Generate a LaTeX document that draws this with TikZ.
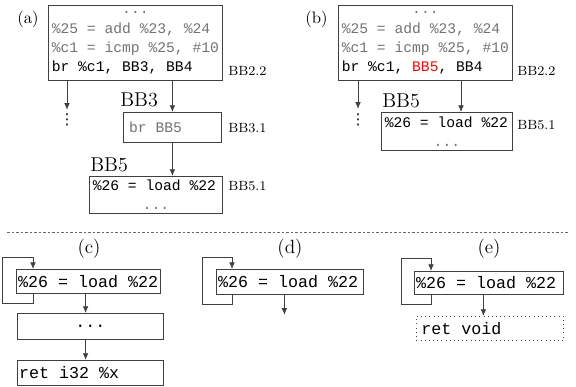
\documentclass[tikz,border=0pt]{standalone}
\usepackage{fontspec}
\setmonofont{Liberation Mono}
\newfontfamily\symfont{DejaVu Sans}
\usepackage{xcolor}
\usetikzlibrary{arrows.meta}

\colorlet{dim}{black!55}
\newcommand{\ctrdots}{\makebox[\linewidth]{...}}

\tikzset{
  blk/.style={draw=black!75,line width=0.5pt,anchor=north west,inner xsep=2pt,inner ysep=1pt,
    align=flush left,font=\fontsize{8.8pt}{11.6pt}\selectfont\ttfamily},
  bblk/.style={blk,inner xsep=1pt,font=\fontsize{10pt}{13pt}\selectfont\ttfamily},
  lbl/.style={anchor=west,inner sep=0pt,font=\footnotesize},
  hdr/.style={anchor=base west,inner sep=0pt,font=\large},
  tag/.style={anchor=base west,inner sep=0pt},
  btag/.style={inner sep=0pt,font=\fontsize{11.5pt}{13pt}\selectfont},
  vdot/.style={inner sep=0pt,font=\symfont\fontsize{9pt}{9pt}\selectfont},
  arr/.style={draw=black!75,line width=0.5pt,-{Latex[length=4pt,width=3.4pt]}},
}

\begin{document}
\begin{tikzpicture}[x=0.6pt,y=-0.6pt]
\useasboundingbox (0,0) rectangle (576,387);
% (a)
\node[tag] (atag) at (17,24) {(a)};
\node[blk,text width=100.4pt,minimum height=45pt] (a22) at (48,5)
  {\color{dim}\ctrdots\\\%25 = add \%23, \%24\\\%c1 = icmp \%25, \#10\\\color{black}br \%c1, BB3, BB4};
\node[lbl] (a22l) at (228,71) {BB2.2};
\node[vdot] (adots) at (67,120) {⋮};
\node[hdr] (a3h) at (120,107) {BB3};
\node[blk,text width=54.8pt,minimum height=18pt] (a31) at (123,112) {\color{dim}\,br BB5};
\node[lbl] (a31l) at (228,128) {BB3.1};
\node[hdr] (a5h) at (90,172) {BB5};
\node[blk,text width=75.8pt,minimum height=22.2pt] (a51) at (89,176)
  {\%26 = load \%22\\\color{dim}\ctrdots};
\node[lbl] (a51l) at (228,186) {BB5.1};
\draw[arr] (a22.south -| adots) -- ++(0,29);
\draw[arr] (a22.south -| a31) -- (a31.north);
\draw[arr] (a31.south) -- (a31.south |- a51.north);
% (b)
\node[tag] (btag) at (305,24) {(b)};
\node[blk,text width=100.4pt,minimum height=45pt] (b22) at (338,5)
  {\color{dim}\ctrdots\\\%25 = add \%23, \%24\\\%c1 = icmp \%25, \#10\\\color{black}br \%c1, \textcolor{red}{BB5}, BB4};
\node[lbl] (b22l) at (517,71) {BB2.2};
\node[vdot] (bdots) at (358,120) {⋮};
\node[hdr] (b5h) at (382,108) {BB5};
\node[blk,text width=74.6pt,minimum height=22.8pt] (b51) at (381,112)
  {\%26 = load \%22\\\color{dim}\ctrdots};
\node[lbl] (b51l) at (517,125) {BB5.1};
\coordinate (bto) at (461,0);
\draw[arr] (b22.south -| bdots) -- ++(0,28);
\draw[arr] (b22.south -| bto) -- (b51.north -| bto);
% separator
\draw[black!60,dash pattern=on 1.5pt off 1.2pt] (7,232) -- (569,232);
% (c)
\node[btag] (ctag) at (89,249) {(c)};
\node[bblk,text width=84.6pt,minimum height=14.4pt] (c1) at (16,269) {\%26 = load \%22};
\node[bblk,text width=85.6pt,minimum height=15.6pt] (c2) at (17,313) {\ctrdots};
\node[bblk,text width=85.6pt,minimum height=15pt] (c3) at (17,360) {ret i32 \%x};
\coordinate (cto) at ([xshift=-1.8pt]c1.south);
\draw[arr] ([xshift=10.2pt]c1.south west) -- ++(0,10) -- ++(-31,0) -- ++(0,-46) -| ([xshift=10.2pt]c1.north west);
\draw[arr] (cto) -- (cto |- c2.north);
\draw[arr] (cto |- c2.south) -- (cto |- c3.north);
% (d)
\node[btag] (dtag) at (290,249) {(d)};
\node[bblk,text width=86.2pt,minimum height=15pt] (d1) at (216,269) {\%26 = load \%22};
\coordinate (dout) at ([xshift=-3.3pt,yshift=-12pt]d1.south);
\draw[arr] ([xshift=9.6pt]d1.south west) -- ++(0,10) -- ++(-30,0) -- ++(0,-47) -| ([xshift=9.6pt]d1.north west);
\draw[arr] (d1.south -| dout) -- (dout);
% (e)
\node[btag] (etag) at (489,249) {(e)};
\node[bblk,text width=87.4pt,minimum height=13.8pt] (e1) at (414,271) {\%26 = load \%22};
\node[bblk,dotted,inner xsep=3pt,text width=82.2pt,minimum height=14.4pt] (e2) at (416,316) {ret void};
\coordinate (eto) at ([xshift=-3.3pt]e1.south);
\draw[arr] ([xshift=10.2pt]e1.south west) -- ++(0,10) -- ++(-30,0) -- ++(0,-46) -| ([xshift=10.2pt]e1.north west);
\draw[arr] (eto) -- (eto |- e2.north);
\end{tikzpicture}
\end{document}
